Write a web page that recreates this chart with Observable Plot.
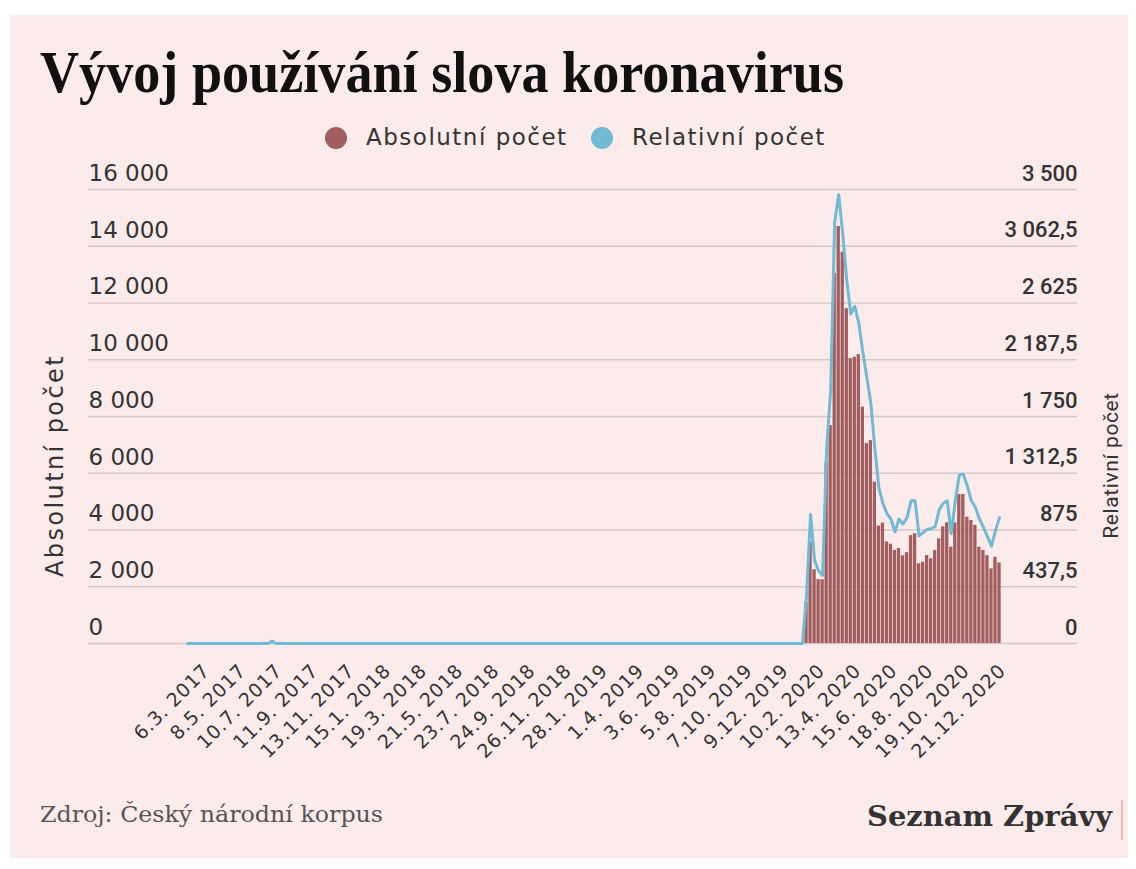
<!DOCTYPE html>
<html>
<head>
<meta charset="utf-8">
<script src="https://cdn.jsdelivr.net/npm/d3@7"></script>
<script src="https://cdn.jsdelivr.net/npm/@observablehq/plot@0.6"></script>
<style>
  html, body { margin: 0; padding: 0; background: #ffffff; width: 1136px; height: 869px; overflow: hidden; }
  #card { position: absolute; left: 10px; top: 15px; width: 1118px; height: 843px; background: #fcebeb; }
  .abs { position: absolute; white-space: nowrap; line-height: 1; transform-origin: 0 0; }
  #title { left: 40px; top: 42px; font-family: "Liberation Serif", serif; font-weight: 700; font-size: 60px; color: #111; }
  .lgtext { top: 126px; font-family: "DejaVu Sans", sans-serif; font-size: 23px; color: #333; letter-spacing: 1.5px; line-height: 22px; }
  .dot { position: absolute; width: 22px; height: 22px; border-radius: 50%; top: 127px; }
  #source { left: 40px; top: 804px; font-family: "DejaVu Serif", serif; font-size: 22px; color: #555; }
  #brand { top: 803px; font-family: "DejaVu Serif", serif; font-weight: 700; font-size: 28px; color: #333; }
  #brandbar { position: absolute; left: 1121px; top: 800px; width: 2px; height: 40px; background: #f0b9bd; }
  #chart { position: absolute; left: 0; top: 155px; }
</style>
</head>
<body>
<div id="card"></div>
<div id="title" class="abs">Vývoj používání slova koronavirus</div>
<div class="dot" style="left:325px;background:#a25e5f"></div>
<div id="lg1" class="abs lgtext" style="left:366px">Absolutní počet</div>
<div class="dot" style="left:591px;background:#72b9d3"></div>
<div id="lg2" class="abs lgtext" style="left:632px">Relativní počet</div>
<div id="chart"></div>
<div id="source" class="abs">Zdroj: Český národní korpus</div>
<div id="brand" class="abs">Seznam Zprávy</div>
<div id="brandbar"></div>
<script>
// ---- DATA (weekly, Mondays from 6.2.2017 to 21.12.2020) ----
const firstWeek = "2017-02-06";
const lastWeek = "2020-12-21";

// Absolutní počet
const absolutni2017 = [
  0,0,0,0,0,0,0,0,0,0,
  0,0,0,0,0,0,0,0,0,0,
  0,60,0,0,0,0,0,0,0,0,
  0,0,0,0,0,0,0,0,0,0,
  0,0,0,0,0,0,0
];
const absolutni2018 = [
  0,0,0,0,0,0,0,0,0,0,
  0,0,0,0,0,0,0,0,0,0,
  0,0,0,0,0,0,0,0,0,0,
  0,0,0,0,0,0,0,0,0,0,
  0,0,0,0,0,0,0,0,0,0,
  0,0,0
];
const absolutni2019 = [
  0,0,0,0,0,0,0,0,0,0,
  0,0,0,0,0,0,0,0,0,0,
  0,0,0,0,0,0,0,0,0,0,
  0,0,0,0,0,0,0,0,0,0,
  0,0,0,0,0,0,0,0,0,0,
  0,0
];
const absolutni2020 = [
  0,0,1455,3570,2600,2250,2250,6390,7680,13040,
  14695,13790,11800,10040,10090,10180,8330,7050,7150,5685,
  4140,4245,3580,3500,3280,3350,3090,3200,3800,3870,
  2810,2865,3100,2985,3280,3690,4110,4250,3395,4250,
  5250,5250,4450,4335,4160,3395,3280,3100,2630,3040,
  2840
];

// Relativní počet
const relativni2017 = [
  0,0,0,0,0,0,0,0,0,0,
  0,0,0,0,0,0,0,0,0,0,
  0,20,0,0,0,0,0,0,0,0,
  0,0,0,0,0,0,0,0,0,0,
  0,0,0,0,0,0,0
];
const relativni2018 = [
  0,0,0,0,0,0,0,0,0,0,
  0,0,0,0,0,0,0,0,0,0,
  0,0,0,0,0,0,0,0,0,0,
  0,0,0,0,0,0,0,0,0,0,
  0,0,0,0,0,0,0,0,0,0,
  0,0,0
];
const relativni2019 = [
  0,0,0,0,0,0,0,0,0,0,
  0,0,0,0,0,0,0,0,0,0,
  0,0,0,0,0,0,0,0,0,0,
  0,0,0,0,0,0,0,0,0,0,
  0,0,0,0,0,0,0,0,0,0,
  0,0
];
const relativni2020 = [
  0,0,370,995,640,560,525,1500,1950,3250,
  3460,3160,2800,2540,2600,2470,2250,2050,1850,1500,
  1200,1080,1000,960,860,960,920,970,1100,1100,
  830,855,880,885,900,1030,1080,1100,846,1100,
  1300,1305,1215,1100,1050,960,895,825,750,870,
  970
];

// Tick labels (x)
const tickWeeks = [
  "2017-03-06","2017-05-08","2017-07-10","2017-09-11","2017-11-13","2018-01-15",
  "2018-03-19","2018-05-21","2018-07-23","2018-09-24","2018-11-26","2019-01-28",
  "2019-04-01","2019-06-03","2019-08-05","2019-10-07","2019-12-09","2020-02-10",
  "2020-04-13","2020-06-15","2020-08-17","2020-10-19","2020-12-21"
];
const tickLabels = [
  "6.3. 2017","8.5. 2017","10.7. 2017","11.9. 2017","13.11. 2017","15.1. 2018",
  "19.3. 2018","21.5. 2018","23.7. 2018","24.9. 2018","26.11. 2018","28.1. 2019",
  "1.4. 2019","3.6. 2019","5.8. 2019","7.10. 2019","9.12. 2019","10.2. 2020",
  "13.4. 2020","15.6. 2020","18.8. 2020","19.10. 2020","21.12. 2020"
];
// Tick values (y)
const absTicks = [0, 2000, 4000, 6000, 8000, 10000, 12000, 14000, 16000];
const absMax = 16000;
const relMax = 3500;

// ---- BUILD ----
const isoFmt = d3.utcFormat("%Y-%m-%d");
const weeks = d3.utcMonday.range(new Date(firstWeek + "T00:00Z"), d3.utcDay.offset(new Date(lastWeek + "T00:00Z"), 1)).map(isoFmt);
const absAll = [...absolutni2017, ...absolutni2018, ...absolutni2019, ...absolutni2020];
const relAll = [...relativni2017, ...relativni2018, ...relativni2019, ...relativni2020];
const data = weeks.map((w, i) => ({week: w, abs: absAll[i], rel: relAll[i]}));
const labelOf = new Map(tickWeeks.map((w, i) => [w, tickLabels[i]]));

const loc = d3.formatLocale({decimal: ",", thousands: "\u00a0", grouping: [3], currency: ["", " Kč"]});
const fmtLeft = loc.format(",d");
const fmtRight = loc.format(",.1~f");
const relToAbs = absMax / relMax;

const chart = Plot.plot({
  width: 1136,
  height: 640,
  marginTop: 34,
  marginBottom: 152,
  marginLeft: 88,
  marginRight: 59,
  style: {background: "transparent", color: "#333", fontFamily: "DejaVu Sans", overflow: "visible"},
  x: {type: "band", domain: weeks, range: [185, 1001], padding: 0, round: false},
  y: {domain: [0, absMax]},
  marks: [
    Plot.ruleY(absTicks, {stroke: "#d6c8c9", strokeWidth: 1.5}),
    Plot.barY(data, {x: "week", y: "abs", fill: "#a25e5f", insetLeft: 0.35, insetRight: 0.35}),
    Plot.line(data, {x: "week", y: d => d.rel * relToAbs, stroke: "#72b9d3", strokeWidth: 3, strokeLinejoin: "round"}),
    Plot.axisX({ticks: tickWeeks, tickFormat: w => labelOf.get(w), tickRotate: -45, tickSize: 0, tickPadding: 24, dx: 3, fontSize: 19, fill: "#333", label: null}),
    Plot.axisY({anchor: "left", ticks: absTicks, tickFormat: fmtLeft, tickSize: 0, tickPadding: 0, textAnchor: "start", dy: -16, fontSize: 23, fill: "#333", label: null}),
    Plot.axisY({anchor: "right", ticks: absTicks, tickFormat: v => fmtRight(v / relToAbs), tickSize: 0, tickPadding: 0, textAnchor: "end", dy: -16, fontSize: 22, fontFamily: "Roboto", fontWeight: 500, fill: "#333", label: null}),
    Plot.text(["Absolutní počet"], {text: d => d, frameAnchor: "left", textAnchor: "middle", rotate: -90, dx: -33, dy: 49, fontSize: 24, fill: "#333"}),
    Plot.text(["Relativní počet"], {text: d => d, frameAnchor: "right", textAnchor: "middle", rotate: -90, dx: 34, dy: 49, fontSize: 21, fontFamily: "Roboto", fill: "#333"})
  ]
});
document.getElementById("chart").appendChild(chart);

// letter spacing tweaks for the wide reference sans font
chart.querySelectorAll('g[aria-label="x-axis tick label"] text').forEach(t => t.style.letterSpacing = "0.8px");
const titles = chart.querySelectorAll('g[aria-label="text"] text');
if (titles[0]) titles[0].style.letterSpacing = "2.4px";
if (titles[1]) titles[1].style.letterSpacing = "0.6px";

// fit text widths to reference layout
function fitWidth(id, target) {
  const el = document.getElementById(id);
  const w = el.getBoundingClientRect().width;
  el.style.transform = `scaleX(${target / w})`;
}
fitWidth("title", 804);
fitWidth("source", 343);
const brand = document.getElementById("brand");
const bw = brand.getBoundingClientRect().width;
const bTarget = 245;
brand.style.left = (1112 - bTarget) + "px";
brand.style.transform = `scaleX(${bTarget / bw})`;
</script>
</body>
</html>
